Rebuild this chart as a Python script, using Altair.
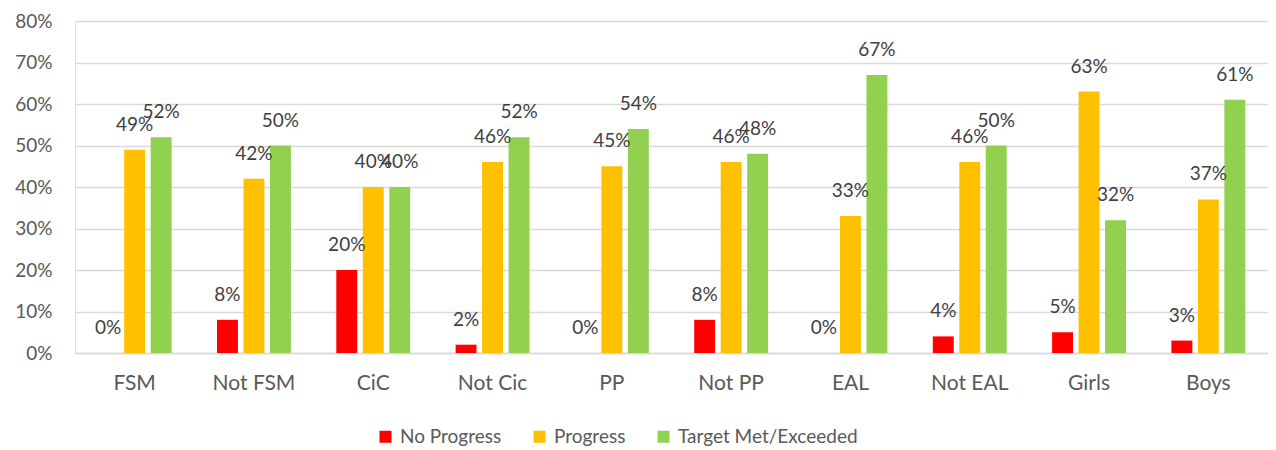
import altair as alt
import pandas as pd

categories = ["FSM", "Not FSM", "CiC", "Not Cic", "PP", "Not PP", "EAL", "Not EAL", "Girls", "Boys"]
series = ["No Progress", "Progress", "Target Met/Exceeded"]
colors = ["#FF0000", "#FFC000", "#92D050"]
no_progress = [0, 8, 20, 2, 0, 8, 0, 4, 5, 3]
progress = [49, 42, 40, 46, 45, 46, 33, 46, 63, 37]
target_met = [52, 50, 40, 52, 54, 48, 67, 50, 32, 61]

rows = []
for s, vals in zip(series, [no_progress, progress, target_met]):
    for c, v in zip(categories, vals):
        rows.append({"category": c, "series": s, "value": v / 100})
df = pd.DataFrame(rows)

FONT = "Lato"

x = alt.X("category:N", sort=categories, title=None,
          scale=alt.Scale(paddingInner=0, paddingOuter=0),
          axis=alt.Axis(labelAngle=0, labelFontSize=21, labelColor="#595959", labelFont=FONT,
                        labelPadding=30, labelBaseline="middle", ticks=False, tickSize=0,
                        domainColor="#D9D9D9", domainWidth=1.5, grid=False))
xoff = alt.XOffset("series:N", sort=series,
                   scale=alt.Scale(paddingInner=0.21, paddingOuter=0.857))
y = alt.Y("value:Q", title=None,
          scale=alt.Scale(domain=[0, 0.8], nice=False),
          axis=alt.Axis(format=".0%", values=[0, 0.1, 0.2, 0.3, 0.4, 0.5, 0.6, 0.7, 0.8],
                        labelFontSize=19, labelColor="#595959", labelFont=FONT,
                        labelPadding=23, ticks=False, tickSize=0, domain=False,
                        gridColor="#D9D9D9", gridWidth=1.5))
color = alt.Color("series:N", sort=series, title=None,
                  scale=alt.Scale(domain=series, range=colors),
                  legend=alt.Legend(orient="none", legendX=301, legendY=406, direction="horizontal",
                                    symbolType="square", symbolSize=144, symbolStrokeWidth=0,
                                    labelFontSize=19, labelFont=FONT, labelColor="#595959",
                                    labelLimit=400, labelOffset=5, columnPadding=28, padding=0))

bars = alt.Chart(df).mark_bar().encode(x=x, xOffset=xoff, y=y, color=color)
labels = alt.Chart(df).mark_text(dy=-25, baseline="middle", fontSize=19, font=FONT,
                                 color="#404040").encode(
    x=alt.X("category:N", sort=categories),
    xOffset=alt.XOffset("series:N", sort=series),
    y=alt.Y("value:Q"),
    text=alt.Text("value:Q", format=".0%"))

chart = alt.layer(bars, labels).properties(
    width=1193, height=332,
    autosize=alt.AutoSizeParams(type="none"),
    padding={"left": 67, "top": 13, "right": 0, "bottom": 93},
).configure_view(stroke=None).configure(background="white")

chart.save("out.html", embed_options={"renderer": "svg", "actions": False})
